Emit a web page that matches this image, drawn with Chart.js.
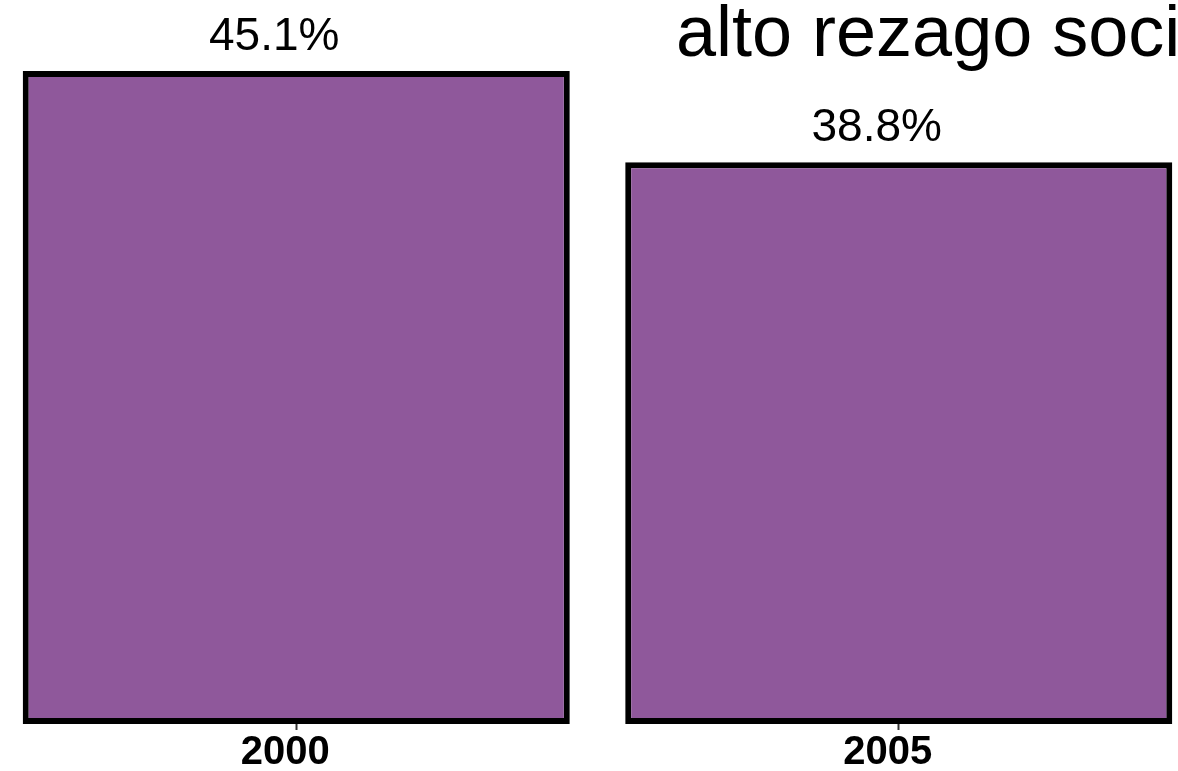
<!DOCTYPE html>
<html>
<head>
<meta charset="utf-8">
<script src="https://cdn.jsdelivr.net/npm/chart.js@4.4.1/dist/chart.umd.min.js"></script>
<style>
  html, body { margin: 0; padding: 0; background: #ffffff; overflow: hidden; width: 1178px; height: 771px; }
  #wrap { position: absolute; left: -5px; top: 0; width: 1205px; height: 771px; }
</style>
</head>
<body>
<div id="wrap"><canvas id="c"></canvas></div>
<script>
const categories = ['2000', '2005'];
const values = [45.1, 38.8];
const valueLabels = ['45.1%', '38.8%'];
const titleText = 'alto rezago soci';

const FONT = "'Liberation Sans', Arial, Helvetica, sans-serif";

const labelsPlugin = {
  id: 'labelsPlugin',
  afterDatasetsDraw(chart) {
    const ctx = chart.ctx;
    const meta = chart.getDatasetMeta(0);
    ctx.save();
    ctx.fillStyle = '#000000';
    ctx.font = '46px ' + FONT;
    ctx.textAlign = 'center';
    ctx.textBaseline = 'alphabetic';
    meta.data.forEach((bar, i) => {
      ctx.fillText(valueLabels[i], bar.x - 22, bar.y - 21);
    });
    ctx.font = '72px ' + FONT;
    ctx.textAlign = 'left';
    ctx.fillText(titleText, 681, 56);
    ctx.restore();
  }
};

new Chart(document.getElementById('c'), {
  type: 'bar',
  data: {
    labels: categories,
    datasets: [{
      data: values,
      backgroundColor: '#8F589B',
      borderColor: '#000000',
      borderWidth: 6,
      borderSkipped: false,
      categoryPercentage: 1.0,
      barPercentage: 0.908
    }]
  },
  options: {
    responsive: true,
    maintainAspectRatio: false,
    animation: false,
    layout: { padding: 0 },
    plugins: {
      legend: { display: false },
      tooltip: { enabled: false },
      title: { display: false }
    },
    scales: {
      x: {
        offset: true,
        border: { display: false },
        grid: {
          display: true,
          offset: false,
          drawOnChartArea: false,
          drawTicks: true,
          tickLength: 6,
          tickWidth: 2,
          tickColor: '#333333'
        },
        ticks: {
          color: '#000000',
          padding: 3,
          labelOffset: -11,
          font: { family: FONT, size: 40, weight: 'bold', lineHeight: 1.0 }
        },
        afterFit(scale) { scale.height = 47; }
      },
      y: {
        display: false,
        min: 0,
        max: 50
      }
    }
  },
  plugins: [labelsPlugin]
});
</script>
</body>
</html>
